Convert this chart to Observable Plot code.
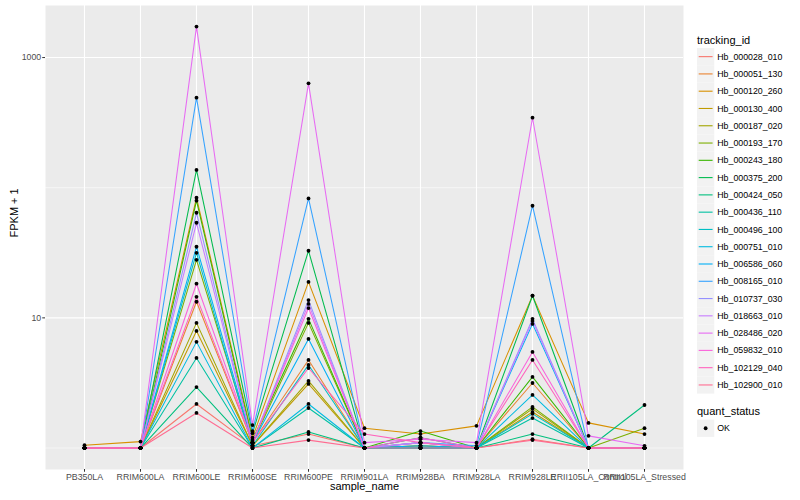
<!DOCTYPE html>
<html><head><meta charset="utf-8">
<script src="https://cdn.jsdelivr.net/npm/d3@7"></script>
<script src="https://cdn.jsdelivr.net/npm/@observablehq/plot@0.6"></script>
<style>
body{margin:0;background:#fff;font-family:"Liberation Sans",Arial,sans-serif;}
#wrap{position:relative;width:800px;height:500px;}
#legend{position:absolute;left:690px;top:0px;}
</style></head>
<body><div id="wrap"><div id="chart"></div><div id="legend"></div></div>
<script>
const samples = ["PB350LA","RRIM600LA","RRIM600LE","RRIM600SE","RRIM600PE","RRIM901LA","RRIM928BA","RRIM928LA","RRIM928LE","RRII105LA_Control","RRII105LA_Stressed"];
const trackingIds = ["Hb_000028_010","Hb_000051_130","Hb_000120_260","Hb_000130_400","Hb_000187_020","Hb_000193_170","Hb_000243_180","Hb_000375_200","Hb_000424_050","Hb_000436_110","Hb_000496_100","Hb_000751_010","Hb_006586_060","Hb_008165_010","Hb_010737_030","Hb_018663_010","Hb_028486_020","Hb_059832_010","Hb_102129_040","Hb_102900_010"];
const palette = ["#F8766D","#EA8331","#D89000","#C09B00","#A3A500","#7CAE00","#39B600","#00BB4E","#00BF7D","#00C1A3","#00BFC4","#00BAE0","#00B0F6","#35A2FF","#9590FF","#C77CFF","#E76BF3","#FA62DB","#FF62BC","#FF6C91"];
const yTicks = [10, 1000];
const statusLevels = ["OK"];

// FPKM + 1 per sample, in the order of `samples`
const Hb_000028_010 = [1, 1, 2.18, 1.04, 1.28, 1, 1.04, 1, 1.17, 1, 1];
const Hb_000051_130 = [1, 1, 13.3, 1.1, 4.75, 1, 1.1, 1, 3.16, 1, 1];
const Hb_000120_260 = [1.05, 1.12, 83.8, 1.2, 18.9, 1.42, 1.28, 1.48, 14.8, 1.56, 1.28];
const Hb_000130_400 = [1, 1, 7.94, 1.04, 3.11, 1, 1, 1, 1.89, 1, 1];
const Hb_000187_020 = [1, 1, 9.15, 1.04, 3.28, 1, 1, 1, 2.0, 1, 1];
const Hb_000193_170 = [1, 1, 27.9, 1.1, 9.15, 1, 1.04, 1, 2.07, 1, 1.42];
const Hb_000243_180 = [1, 1, 79.5, 1.15, 9.83, 1, 1.35, 1, 3.52, 1, 1];
const Hb_000375_200 = [1, 1, 137, 1.3, 32.8, 1, 1.2, 1, 14.8, 1, 1];
const Hb_000424_050 = [1, 1, 2.94, 1, 1.33, 1, 1, 1, 1.28, 1, 2.14];
const Hb_000436_110 = [1, 1, 4.92, 1, 2.03, 1, 1, 1, 1.70, 1, 1];
const Hb_000496_100 = [1, 1, 31.6, 1.04, 4.35, 1, 1, 1, 1.83, 1, 1];
const Hb_000751_010 = [1, 1, 6.54, 1, 2.18, 1, 1, 1, 2.56, 1, 1];
const Hb_006586_060 = [1, 1, 35.2, 1.1, 6.89, 1, 1.04, 1, 8.99, 1, 1];
const Hb_008165_010 = [1, 1, 492, 1.35, 82.7, 1, 1.1, 1.04, 72.7, 1, 1];
const Hb_010737_030 = [1, 1, 64.2, 1.1, 13.7, 1, 1.1, 1, 9.83, 1, 1];
const Hb_018663_010 = [1, 1, 53.8, 1.1, 12.8, 1, 1.1, 1, 9.48, 1, 1];
const Hb_028486_020 = [1, 1, 1730, 1.5, 634, 1.1, 1.17, 1.1, 345, 1.24, 1.04];
const Hb_059832_010 = [1, 1, 18.3, 1.1, 11.9, 1, 1.2, 1, 5.47, 1, 1];
const Hb_102129_040 = [1, 1, 14.5, 1.1, 4.12, 1.28, 1.1, 1, 4.75, 1, 1];
const Hb_102900_010 = [1, 1, 1.86, 1, 1.15, 1, 1, 1, 1.15, 1, 1];

const seriesValues = [Hb_000028_010,Hb_000051_130,Hb_000120_260,Hb_000130_400,Hb_000187_020,Hb_000193_170,Hb_000243_180,Hb_000375_200,Hb_000424_050,Hb_000436_110,Hb_000496_100,Hb_000751_010,Hb_006586_060,Hb_008165_010,Hb_010737_030,Hb_018663_010,Hb_028486_020,Hb_059832_010,Hb_102129_040,Hb_102900_010];

const rows = [];
trackingIds.forEach((id, i) => samples.forEach((s, j) => rows.push({tracking_id: id, sample_name: s, fpkm1: seriesValues[i][j]})));

const chart = Plot.plot({
  width: 800, height: 500,
  marginLeft: 45, marginRight: 117, marginTop: 5, marginBottom: 31,
  style: {fontFamily: '"Liberation Sans", Arial, sans-serif', fontSize: "8.8px", color: "#4D4D4D", background: "white"},
  x: {type: "point", domain: samples, padding: 0.6, label: null},
  y: {type: "log", domain: [Math.pow(10, -0.165), Math.pow(10, 3.4)], label: null},
  color: {domain: trackingIds, range: palette},
  marks: [
    Plot.frame({fill: "#EBEBEB", stroke: null}),
    Plot.ruleY([1, 100], {stroke: "white", strokeWidth: 0.55}),
    Plot.ruleY(yTicks, {stroke: "white", strokeWidth: 1.1}),
    Plot.ruleX(samples, {stroke: "white", strokeWidth: 1.1}),
    Plot.line(rows, {x: "sample_name", y: "fpkm1", z: "tracking_id", stroke: "tracking_id", strokeWidth: 1.05}),
    Plot.dot(rows, {x: "sample_name", y: "fpkm1", r: 1.9, fill: "black", stroke: null}),
    Plot.axisX({tickSize: 2.75, tickPadding: 1, stroke: "#333333", fill: "#4D4D4D", label: null}),
    Plot.axisY({ticks: yTicks, tickFormat: d => String(d), tickSize: 2.75, tickPadding: 1.5, stroke: "#333333", fill: "#4D4D4D", label: null}),
    Plot.text(["FPKM + 1"], {frameAnchor: "left", dx: -31, rotate: -90, fontSize: 11, fill: "black"}),
    Plot.text(["sample_name"], {frameAnchor: "bottom", dy: 20, fontSize: 11, fill: "black"})
  ]
});
document.getElementById("chart").appendChild(chart);

// legend drawn as an SVG to the right of the panel
const K = 17.28, lx = 7, firstKeyTop = 48;
const svg = d3.select("#legend").append("svg")
  .attr("width", 110).attr("height", 500)
  .style("font-family", '"Liberation Sans", Arial, sans-serif');
svg.append("text").attr("x", lx).attr("y", 44).attr("font-size", 11).attr("fill", "black").text("tracking_id");
trackingIds.forEach((id, i) => {
  const top = firstKeyTop + i * K;
  svg.append("rect").attr("x", lx).attr("y", top).attr("width", K).attr("height", K).attr("fill", "#F2F2F2");
  svg.append("line").attr("x1", lx + 1.7).attr("x2", lx + K - 1.7).attr("y1", top + K / 2).attr("y2", top + K / 2)
    .attr("stroke", palette[i]).attr("stroke-width", 1.1);
  svg.append("text").attr("x", lx + K + 3).attr("y", top + K / 2).attr("dy", "0.35em").attr("font-size", 8.8).attr("fill", "black").text(id);
});
const qTitleY = firstKeyTop + 20 * K + 21;
svg.append("text").attr("x", lx).attr("y", qTitleY).attr("font-size", 11).attr("fill", "black").text("quant_status");
statusLevels.forEach((s, i) => {
  const top = qTitleY + 5 + i * K;
  svg.append("rect").attr("x", lx).attr("y", top).attr("width", K).attr("height", K).attr("fill", "#F2F2F2");
  svg.append("circle").attr("cx", lx + K / 2).attr("cy", top + K / 2).attr("r", 1.9).attr("fill", "black");
  svg.append("text").attr("x", lx + K + 3).attr("y", top + K / 2).attr("dy", "0.35em").attr("font-size", 8.8).attr("fill", "black").text(s);
});
</script></body></html>
